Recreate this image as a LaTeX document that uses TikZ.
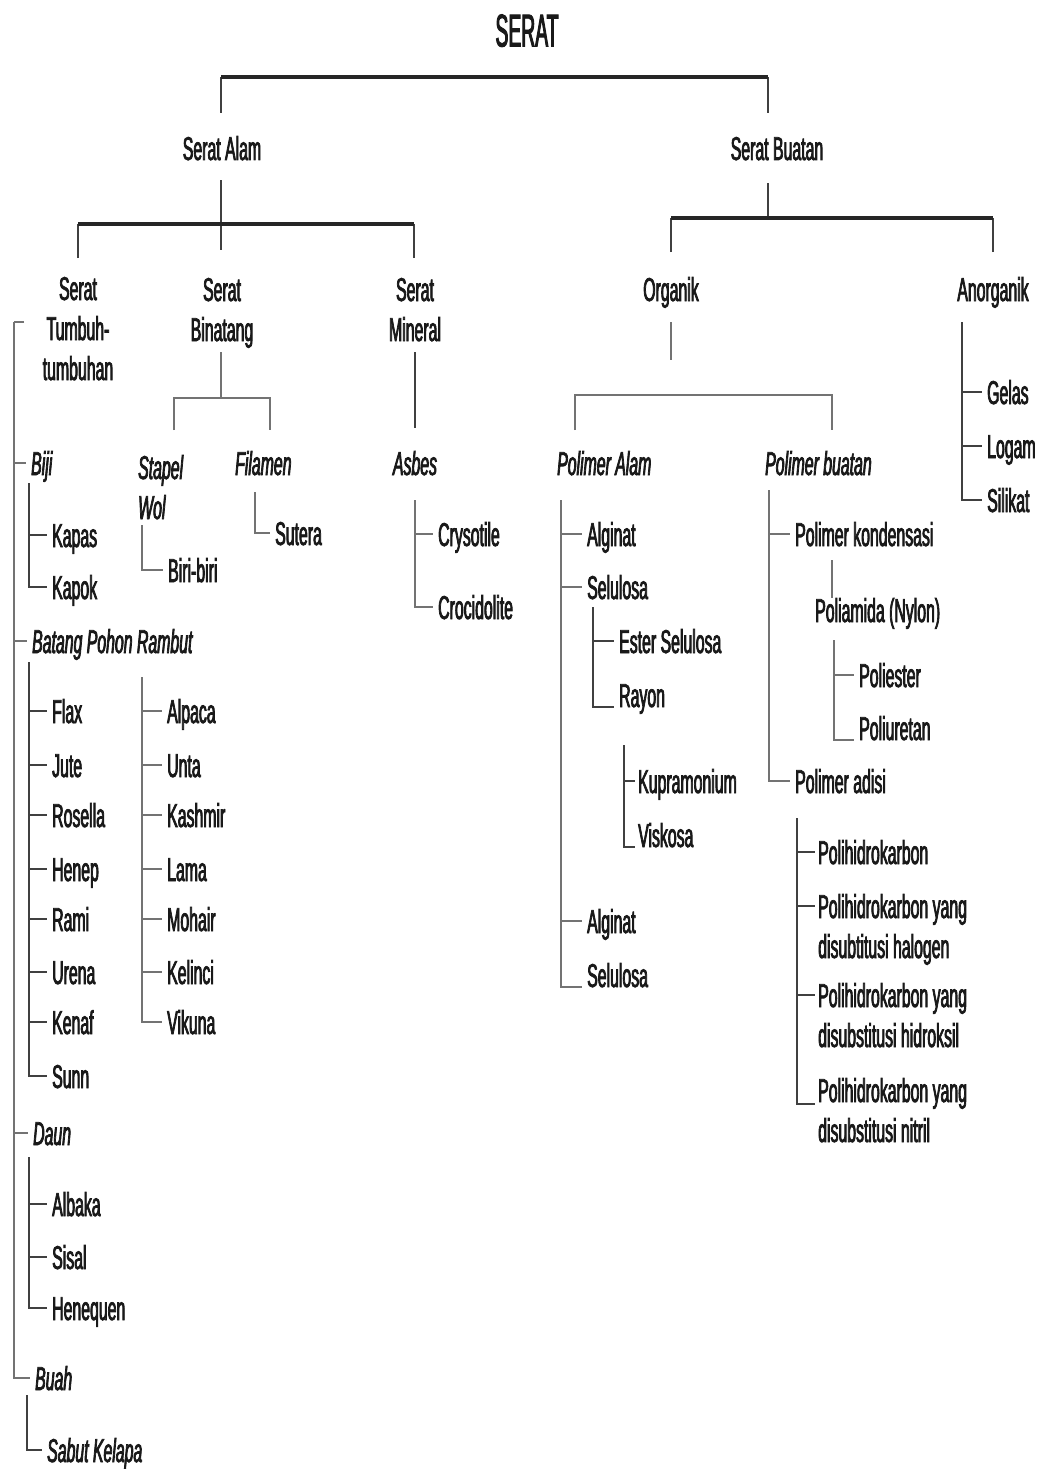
\documentclass[tikz,border=0pt]{standalone}
\usepackage{fontspec}
\setmainfont[FakeStretch=0.48,FakeBold=2.2]{Liberation Sans}
\newfontfamily\titlefont[FakeStretch=0.42,FakeBold=2]{Liberation Sans}
\begin{document}
\begin{tikzpicture}[x=1pt,y=-1pt,
  lbl/.style={anchor=west,font=\fontsize{33}{40}\selectfont,text=black!90,inner xsep=5pt,inner ysep=0pt,text height=24pt,text depth=0pt,align=left},
  itl/.style={lbl,font=\fontsize{33}{40}\selectfont\itshape},
  ctr/.style={lbl,anchor=center,align=center},
  bar/.style={draw=black!85,line width=4.5pt},
  br/.style={draw=black!75,line width=2.5pt},
  lt/.style={draw=black!55,line width=2.5pt}]
\useasboundingbox (0,0) rectangle (1046,1469);
\fill[white] (0,0) rectangle (1046,1469);

% ---------------- top levels
\node[ctr,font=\titlefont\fontsize{46}{50}\selectfont,text height=33pt] (serat) at (527,30) {SERAT};
\node[ctr] (alam) at (222,148) {Serat Alam};
\node[ctr] (buatan) at (777,148) {Serat Buatan};

\coordinate (topbar) at (494,77);
\coordinate (alamIn) at (221,113);
\coordinate (buatanIn) at (768,113);
\draw[br] (alamIn) -- (alamIn |- topbar);
\draw[br] (buatanIn) -- (buatanIn |- topbar);
\draw[bar] (alamIn |- topbar) -- (buatanIn |- topbar);

% multi-line nodes are placed by their last line
\node[ctr] (tum) at (78,368) {Serat\\Tumbuh-\\tumbuhan};
\node[ctr] (bin) at (222,329) {Serat\\Binatang};
\node[ctr] (min) at (415,329) {Serat\\Mineral};
\node[ctr] (org) at (671,289) {Organik};
\node[ctr] (anorg) at (993,289) {Anorganik};

\coordinate (alamOut) at (221,180);
\coordinate (alamBar) at (221,224);
\coordinate (binIn) at (221,250);
\coordinate (tumIn) at (78,258);
\coordinate (minIn) at (414,258);
\draw[br] (alamOut) -- (binIn);
\draw[br] (tumIn) -- (tumIn |- alamBar);
\draw[br] (minIn) -- (minIn |- alamBar);
\draw[bar] (tumIn |- alamBar) -- (minIn |- alamBar);

\coordinate (buatanOut) at (768,183);
\coordinate (buatanBar) at (768,218);
\coordinate (orgIn) at (671,252);
\coordinate (anorgIn) at (993,252);
\draw[br] (buatanOut) -- (buatanBar);
\draw[br] (orgIn) -- (orgIn |- buatanBar);
\draw[br] (anorgIn) -- (anorgIn |- buatanBar);
\draw[bar] (orgIn |- buatanBar) -- (anorgIn |- buatanBar);

% ---------------- Serat Tumbuh-tumbuhan
\coordinate (tumStub) at (24,322);
\coordinate (tumV) at (14,322);
\node[itl] (biji) at (26,463) {Biji};
\node[itl] (batang) at (27,641) {Batang Pohon Rambut};
\node[itl] (daun) at (28,1133) {Daun};
\node[itl] (buah) at (30,1378) {Buah};
\draw[lt] (tumStub) -- (tumV);
\foreach \n in {biji,batang,daun,buah} \draw[lt] (tumV) |- (\n.west);

\coordinate (bijiV) at (29,483);
\node[lbl] (kapas) at (47,535) {Kapas};
\node[lbl] (kapok) at (47,587) {Kapok};
\foreach \n in {kapas,kapok} \draw[br] (bijiV) |- (\n.west);

\coordinate (batV) at (29,662);
\node[lbl] (flax) at (47,711) {Flax};
\node[lbl] (jute) at (47,765) {Jute};
\node[lbl] (rosella) at (47,815) {Rosella};
\node[lbl] (henep) at (47,869) {Henep};
\node[lbl] (rami) at (47,919) {Rami};
\node[lbl] (urena) at (47,972) {Urena};
\node[lbl] (kenaf) at (47,1022) {Kenaf};
\node[lbl] (sunn) at (47,1076) {Sunn};
\foreach \n in {flax,jute,rosella,henep,rami,urena,kenaf,sunn} \draw[br] (batV) |- (\n.west);

\coordinate (colV) at (142,677);
\node[lbl] (alpaca) at (162,711) {Alpaca};
\node[lbl] (unta) at (162,765) {Unta};
\node[lbl] (kashmir) at (162,815) {Kashmir};
\node[lbl] (lama) at (162,869) {Lama};
\node[lbl] (mohair) at (162,919) {Mohair};
\node[lbl] (kelinci) at (162,972) {Kelinci};
\node[lbl] (vikuna) at (162,1022) {Vikuna};
\foreach \n in {alpaca,unta,kashmir,lama,mohair,kelinci,vikuna} \draw[lt] (colV) |- (\n.west);

\coordinate (daunV) at (29,1157);
\node[lbl] (albaka) at (47,1204) {Albaka};
\node[lbl] (sisal) at (47,1257) {Sisal};
\node[lbl] (henequen) at (47,1308) {Henequen};
\foreach \n in {albaka,sisal,henequen} \draw[br] (daunV) |- (\n.west);

\coordinate (buahV) at (27,1395);
\node[itl] (sabut) at (42,1450) {Sabut Kelapa};
\draw[br] (buahV) |- (sabut.west);

% ---------------- Serat Binatang
\coordinate (binOut) at (221,352);
\coordinate (binBar) at (221,398);
\coordinate (stapIn) at (174,430);
\coordinate (filIn) at (270,430);
\draw[lt] (binOut) -- (binBar);
\draw[lt] (stapIn) |- (binBar) -| (filIn);

\node[itl] (stapel) at (133,507) {Stapel\\Wol};
\node[itl] (filamen) at (230,463) {Filamen};

\coordinate (stapV) at (142,525);
\node[lbl] (biri) at (163,570) {Biri-biri};
\draw[lt] (stapV) |- (biri.west);

\coordinate (filV) at (255,492);
\node[lbl] (sutera) at (270,533) {Sutera};
\draw[lt] (filV) |- (sutera.west);

% ---------------- Serat Mineral
\coordinate (minOut) at (415,352);
\coordinate (asbIn) at (415,428);
\draw[br] (minOut) -- (asbIn);
\node[itl,anchor=center] (asbes) at (415,463) {Asbes};
\coordinate (asbV) at (415,500);
\node[lbl] (crysotile) at (433,534) {Crysotile};
\node[lbl] (crocidolite) at (433,607) {Crocidolite};
\foreach \n in {crysotile,crocidolite} \draw[lt] (asbV) |- (\n.west);

% ---------------- Organik
\coordinate (orgOut) at (671,322);
\coordinate (orgEnd) at (671,360);
\draw[lt] (orgOut) -- (orgEnd);
\coordinate (orgBar) at (700,395);
\coordinate (paIn) at (575,430);
\coordinate (pbIn) at (832,430);
\draw[lt] (paIn) |- (orgBar) -| (pbIn);

\node[itl] (palam) at (552,463) {Polimer Alam};
\node[itl] (pbuat) at (760,463) {Polimer buatan};

\coordinate (paV) at (561,500);
\node[lbl] (alginatA) at (582,534) {Alginat};
\node[lbl] (selulosaA) at (582,587) {Selulosa};
\node[lbl] (alginatB) at (582,921) {Alginat};
\node[lbl] (selulosaB) at (582,975) {Selulosa};
\foreach \n in {alginatA,selulosaA,alginatB} \draw[lt] (paV) |- (\n.west);
\draw[lt] (paV) |- (selulosaB.south west);

\coordinate (selV) at (593,607);
\node[lbl] (ester) at (614,641) {Ester Selulosa};
\node[lbl] (rayon) at (614,695) {Rayon};
\draw[br] (selV) |- (ester.west);
\draw[br] (selV) |- (rayon.south west);

\coordinate (kupV) at (624,745);
\node[lbl,inner xsep=3pt] (kupra) at (635,781) {Kupramonium};
\node[lbl,inner xsep=3pt] (viskosa) at (635,835) {Viskosa};
\draw[br] (kupV) |- (kupra.west);
\draw[br] (kupV) |- (viskosa.south west);

\coordinate (pbV) at (769,490);
\node[lbl] (kond) at (790,534) {Polimer kondensasi};
\node[lbl] (adisi) at (790,781) {Polimer adisi};
\foreach \n in {kond,adisi} \draw[lt] (pbV) |- (\n.west);

\node[lbl] (poliamida) at (810,610) {Poliamida (Nylon)};
\coordinate (kondV) at (832,560);
\draw[lt] (kondV) -- (kondV |- poliamida.north);

\coordinate (amV) at (834,640);
\node[lbl] (poliester) at (854,675) {Poliester};
\node[lbl] (poliuretan) at (854,728) {Poliuretan};
\draw[lt] (amV) |- (poliester.west);
\draw[lt] (amV) |- (poliuretan.south west);

\coordinate (adV) at (797,818);
\node[lbl,inner xsep=3pt] (ph) at (815,852) {Polihidrokarbon};
\node[lbl,inner xsep=3pt] (phHal) at (815,946) {Polihidrokarbon yang\\disubtitusi halogen};
\node[lbl,inner xsep=3pt] (phHid) at (815,1035) {Polihidrokarbon yang\\disubstitusi hidroksil};
\node[lbl,inner xsep=3pt] (phNit) at (815,1130) {Polihidrokarbon yang\\disubstitusi nitril};
\draw[br] (adV) |- (ph.west);
\draw[br] (adV) |- ([yshift=40pt]phHal.west);
\draw[br] (adV) |- ([yshift=40pt]phHid.west);
\draw[br] (adV) |- ([yshift=38pt]phNit.south west);

% ---------------- Anorganik
\coordinate (anV) at (962,322);
\node[lbl] (gelas) at (982,392) {Gelas};
\node[lbl] (logam) at (982,446) {Logam};
\node[lbl] (silikat) at (982,500) {Silikat};
\foreach \n in {gelas,logam,silikat} \draw[br] (anV) |- (\n.west);
\end{tikzpicture}
\end{document}
